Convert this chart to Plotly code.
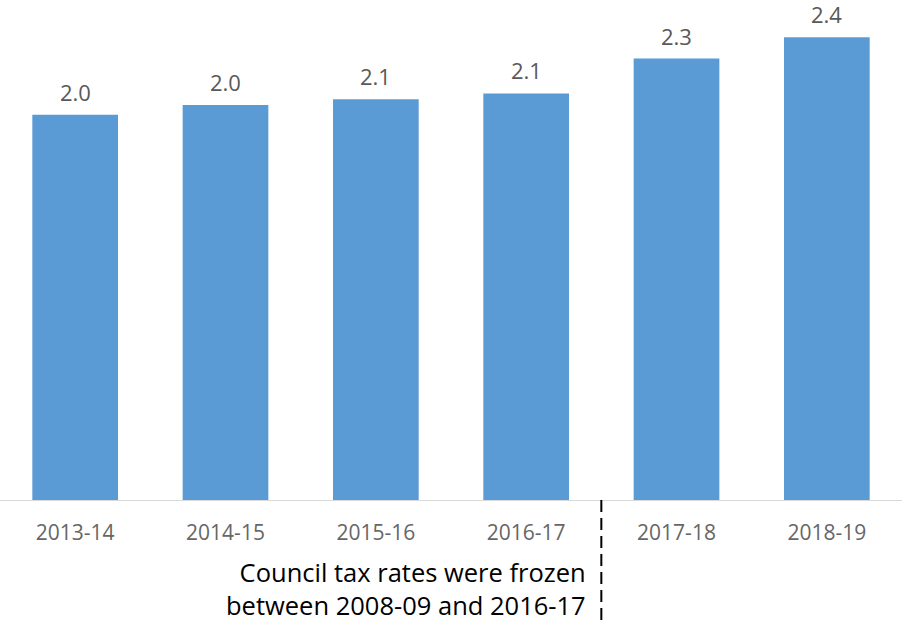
import plotly.graph_objects as go

categories = ["2013-14", "2014-15", "2015-16", "2016-17", "2017-18", "2018-19"]
values = [1.99, 2.04, 2.07, 2.10, 2.28, 2.39]
labels = ["2.0", "2.0", "2.1", "2.1", "2.3", "2.4"]
note_lines = ["Council tax rates were frozen", "between 2008-09 and 2016-17"]

FONT = "Open Sans"
fig = go.Figure()
fig.add_trace(go.Bar(
    x=list(range(len(categories))), y=values,
    marker=dict(color="#5B9BD5", line=dict(width=0)),
    width=0.57, hoverinfo="skip",
))

for i, (v, lab) in enumerate(zip(values, labels)):
    fig.add_annotation(x=i, y=v, text=lab, showarrow=False, yanchor="bottom",
                       yshift=7, borderpad=0,
                       font=dict(family=FONT, size=22, color="#595959"))

fig.add_annotation(x=3.5, y=0, xref="x", yref="paper", xanchor="right", yanchor="top",
                   xshift=-13, yshift=-53, align="right", showarrow=False,
                   text="<br>".join(note_lines),
                   font=dict(family=FONT, size=25.5, color="#000000"))

fig.add_shape(type="line", xref="x", yref="paper", x0=3.5, x1=3.5, y0=0, y1=-0.26,
              line=dict(color="#000000", width=2, dash="12px,6px"))

fig.update_layout(
    width=902, height=625,
    margin=dict(l=0, r=0, t=16, b=125),
    plot_bgcolor="white", paper_bgcolor="white",
    showlegend=False,
    xaxis=dict(range=[-0.5, 5.5], tickmode="array", tickvals=list(range(len(categories))),
               ticktext=categories, showline=True, linecolor="#D9D9D9", linewidth=1,
               showgrid=False, zeroline=False, ticks="outside", ticklen=14, tickcolor="rgba(0,0,0,0)",
               tickfont=dict(family=FONT, size=21, color="#666666"), fixedrange=True),
    yaxis=dict(range=[0, 2.5], visible=False, showgrid=False, zeroline=False, fixedrange=True),
)

fig.write_html("out.html", config={"displayModeBar": False})
